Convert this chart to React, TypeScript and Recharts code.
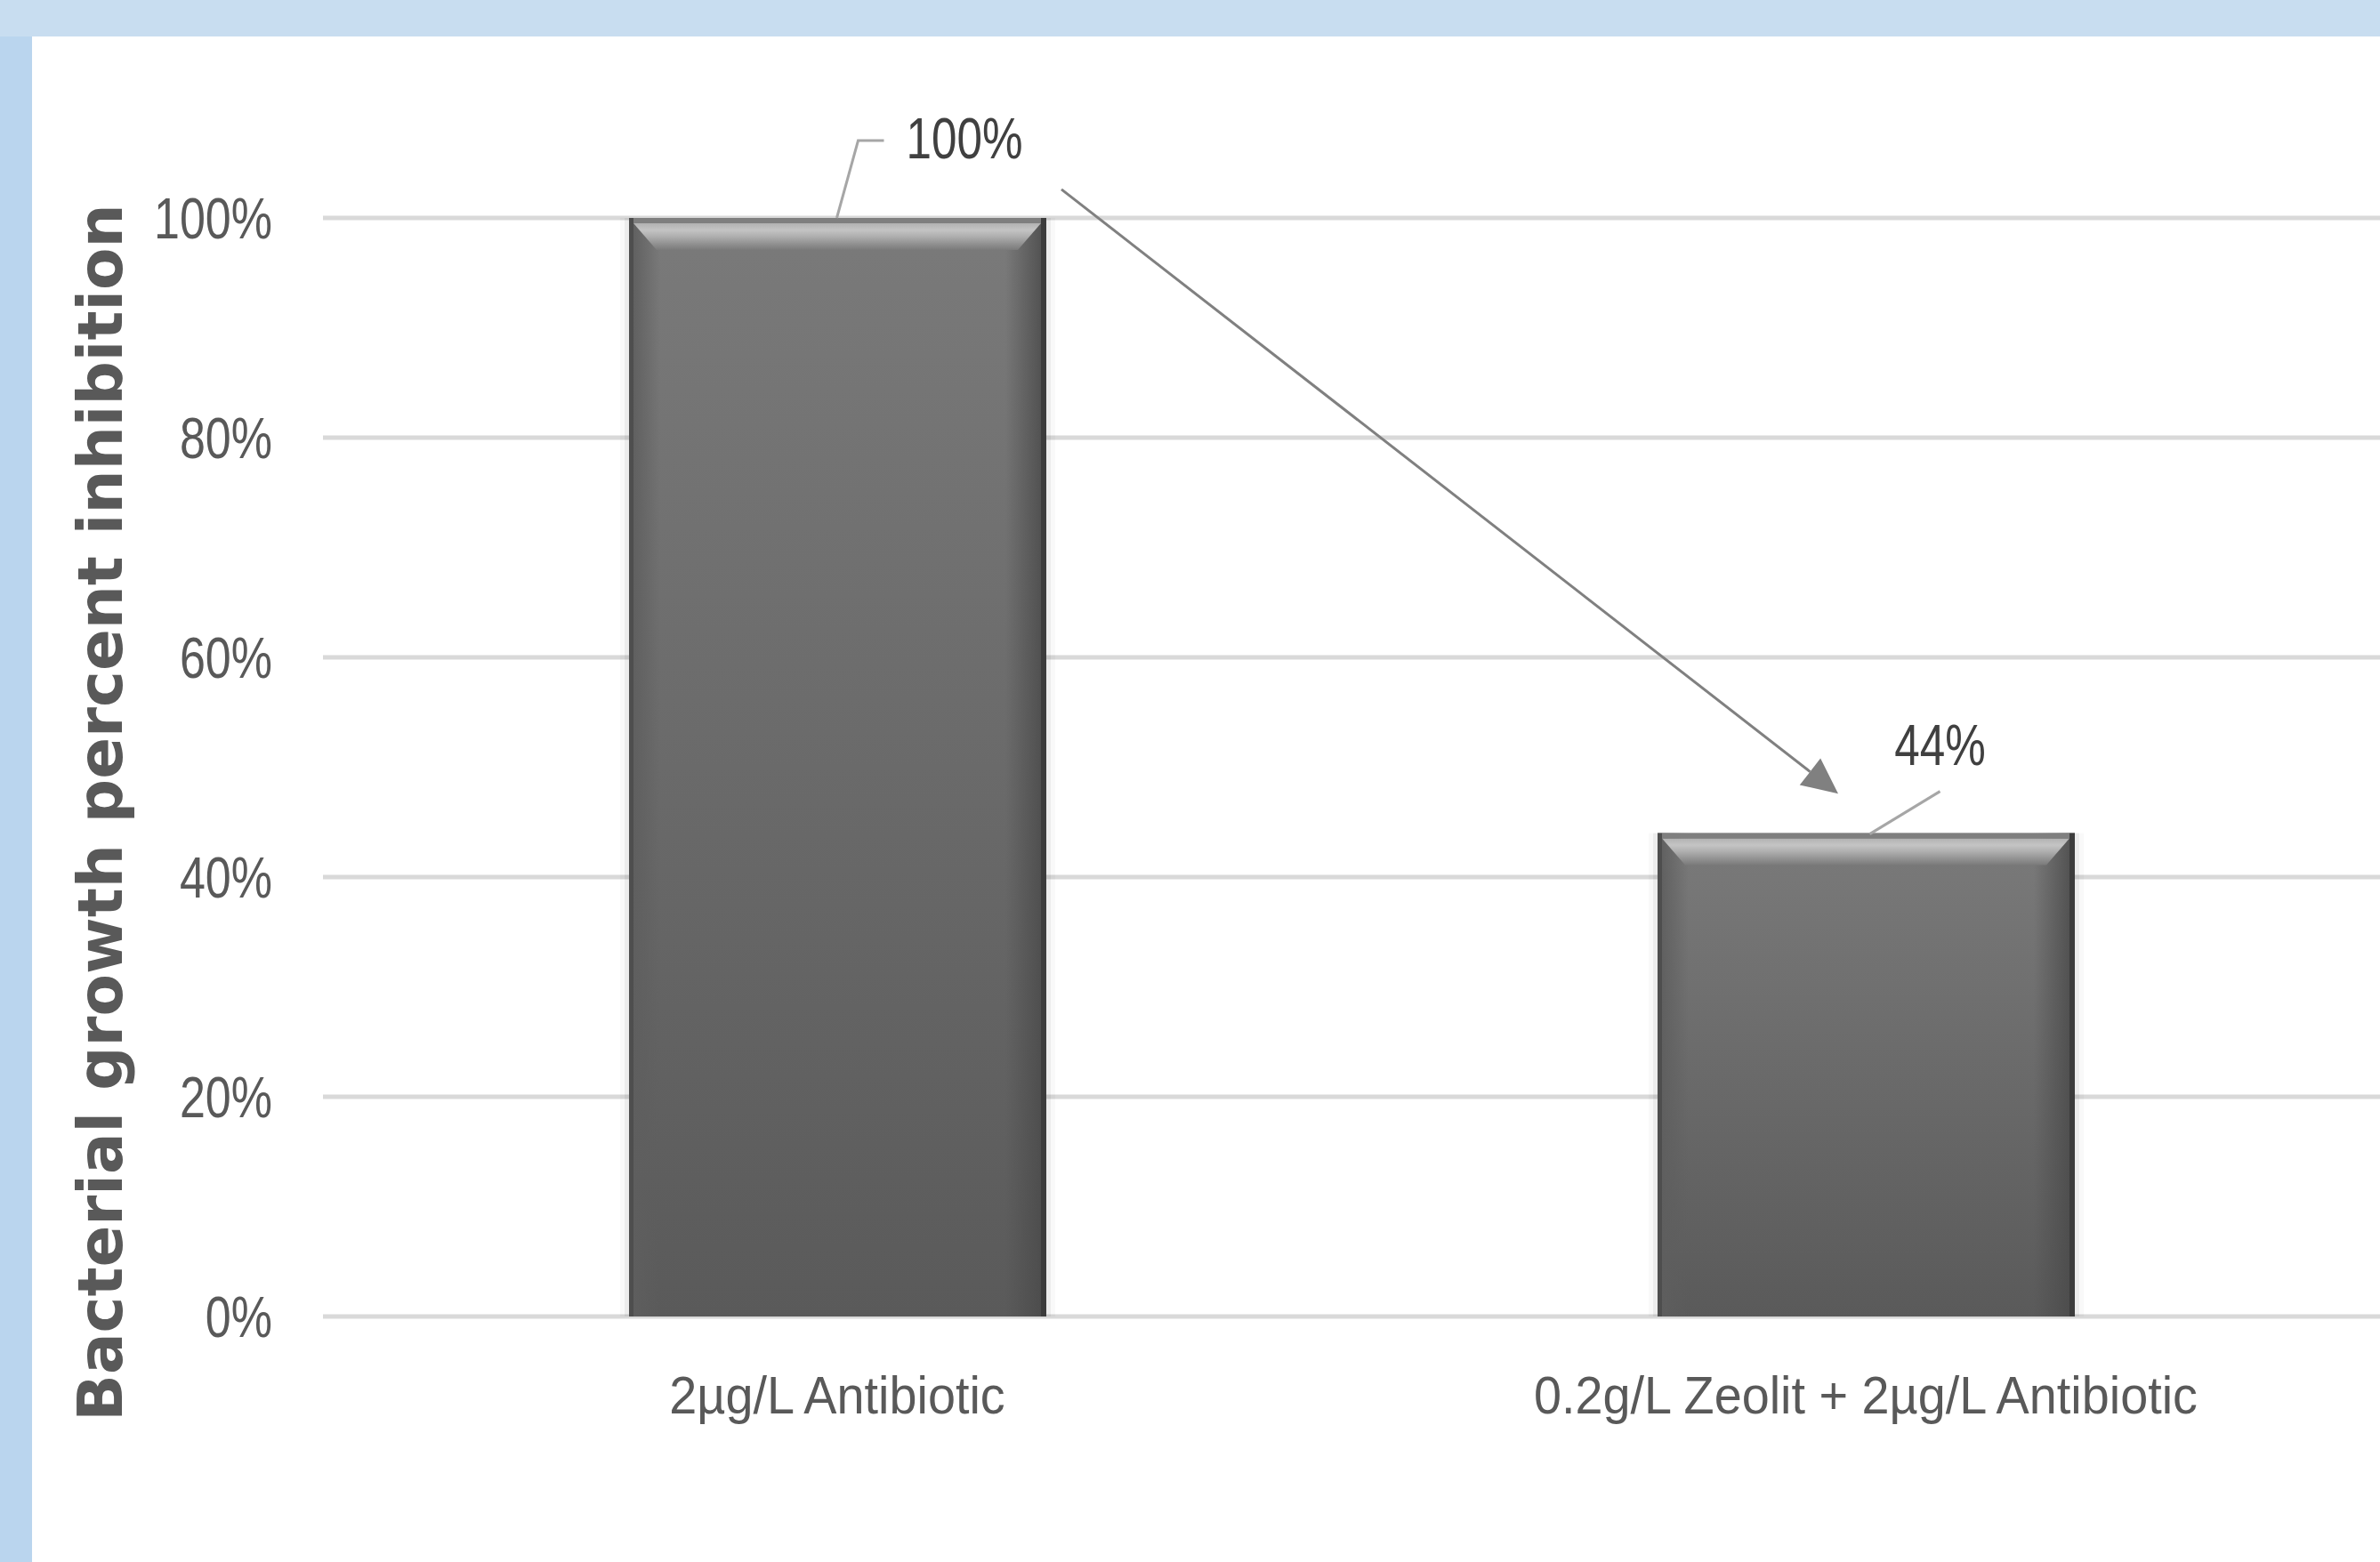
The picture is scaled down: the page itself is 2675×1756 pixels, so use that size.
import React from 'react';
import { BarChart, Bar, XAxis, YAxis, CartesianGrid, LabelList, ReferenceLine } from 'recharts';

// values
const categories = ['2µg/L Antibiotic', '0.2g/L Zeolit + 2µg/L Antibiotic'];
const inhibition = [1.0, 0.44];
const yTicks = [0, 0.2, 0.4, 0.6, 0.8, 1];
const yTitle = 'Bacterial growth percent inhibition';

// arrow annotation, in (fraction of plot width, value) units
const arrowStart = { x: 0.359, y: 1.026 };
const arrowEnd = { x: 0.7366, y: 0.476 };

const data = categories.map((name, i) => ({ name, value: inhibition[i] }));

const SANS = "'Liberation Sans', Arial, sans-serif";
const W = 2675;
const H = 1756;

const pct = (v: number) => `${Math.round(v * 100)}%`;

function BevelBar(props: any) {
    const x = Number(props.x);
    const y = Number(props.y);
    const width = Number(props.width);
    const height = Number(props.height);
    if (!height || height <= 0) return null;
    const bev = 36;
    const inset = 26;
    return (
        <g>
            <rect x={x - 10} y={y} width={width + 20} height={height} fill="#000" opacity={0.025} />
            <rect x={x - 5} y={y} width={width + 10} height={height} fill="#000" opacity={0.05} />
            <rect x={x} y={y} width={width} height={height} fill="url(#barBody)" />
            <rect x={x + 5} y={y} width={30} height={height} fill="url(#barLeft)" />
            <rect x={x + width - 46} y={y} width={40} height={height} fill="url(#barRight)" />
            <polygon
                points={`${x + 5},${y + 6} ${x + width - 6},${y + 6} ${x + width - 6 - inset},${y + bev} ${x + 5 + inset},${y + bev}`}
                fill="url(#barBevel)"
            />
            <rect x={x} y={y} width={width} height={6} fill="#7F7F7F" />
            <rect x={x} y={y} width={5} height={height} fill="#4E4E4E" />
            <rect x={x + width - 6} y={y} width={6} height={height} fill="#3C3C3C" />
        </g>
    );
}

// squeezed text, the reference uses a narrow face
function NarrowText({ x, y, anchor, size, sx, fill, dy, children }: any) {
    return (
        <text
            transform={`translate(${x}, ${y}) scale(${sx}, 1)`}
            textAnchor={anchor}
            dy={dy}
            fontFamily={SANS}
            fontSize={size}
            fill={fill}
        >
            {children}
        </text>
    );
}

const YTick = (props: any) => (
    <NarrowText x={props.x} y={props.y} anchor="end" size={65} sx={0.8} fill="#595959" dy="0.355em">
        {pct(Number(props.payload.value))}
    </NarrowText>
);

const XTick = (props: any) => (
    <NarrowText x={props.x} y={props.y} anchor="middle" size={60} sx={0.93} fill="#595959" dy="0.71em">
        {props.payload.value}
    </NarrowText>
);

// manual label placement, one per bar (Excel style)
const labelPlacement = [
    { lead: [[-1, 0], [23, -87], [52, -87]], dx: 77, dy: -67, anchor: 'start' },
    { lead: [[4, 1], [83, -47]], dx: 83, dy: -77, anchor: 'middle' },
];

function DataLabel(props: any) {
    const vb = props.viewBox || props;
    const x = Number(vb.x ?? props.x);
    const y = Number(vb.y ?? props.y);
    const width = Number(vb.width ?? props.width);
    const index = props.index ?? 0;
    const p = labelPlacement[index] || labelPlacement[0];
    const cx = x + width / 2;
    const d = p.lead.map(([lx, ly], i) => `${i === 0 ? 'M' : 'L'}${cx + lx},${y + ly}`).join(' ');
    return (
        <g>
            <path d={d} fill="none" stroke="#A6A6A6" strokeWidth={3} />
            <NarrowText x={cx + p.dx} y={y + p.dy} anchor={p.anchor} size={64} sx={0.8} fill="#404040">
                {pct(Number(props.value))}
            </NarrowText>
        </g>
    );
}

function ArrowShape(props: any) {
    const x1 = Number(props.x1);
    const y1 = Number(props.y1);
    const x2 = Number(props.x2);
    const y2 = Number(props.y2);
    if ([x1, y1, x2, y2].some((v) => isNaN(v))) return null;
    const len = Math.hypot(x2 - x1, y2 - y1);
    const ux = (x2 - x1) / len;
    const uy = (y2 - y1) / len;
    const headL = 40;
    const headW = 19;
    const bx = x2 - ux * headL;
    const by = y2 - uy * headL;
    return (
        <g>
            <line x1={x1} y1={y1} x2={bx} y2={by} stroke="#808080" strokeWidth={3} />
            <polygon
                points={`${x2},${y2} ${bx - uy * headW},${by + ux * headW} ${bx + uy * headW},${by - ux * headW}`}
                fill="#808080"
            />
        </g>
    );
}

function YTitle(props: any) {
    const vb = props.viewBox || { x: 0, y: 245, width: 363, height: 1235 };
    const cx = Number(vb.x) + 137;
    const cy = Number(vb.y) + Number(vb.height) / 2 + 51;
    return (
        <text
            transform={`translate(${cx}, ${cy}) rotate(-90)`}
            textAnchor="middle"
            fontFamily="'DejaVu Sans', sans-serif"
            fontWeight="bold"
            fontSize={69}
            fill="#595959"
        >
            {yTitle}
        </text>
    );
}

export default function App() {
    return (
        <div style={{ position: 'absolute', left: 0, top: 0, width: W, height: H, background: '#C8DDF0' }}>
            <div style={{ position: 'absolute', left: 0, top: 41, width: 36, height: H - 41, background: '#BAD5EE' }} />
            <div style={{ position: 'absolute', left: 36, top: 41, right: 0, bottom: 0, background: '#FFFFFF' }} />
            <div style={{ position: 'absolute', left: 0, top: 0 }}>
                <BarChart width={W} height={H} data={data} margin={{ top: 245, right: 0, bottom: 176, left: 0 }}>
                    <defs>
                        <linearGradient id="barBody" x1="0" y1="0" x2="0" y2="1">
                            <stop offset="0%" stopColor="#7A7A7A" />
                            <stop offset="100%" stopColor="#5A5A5A" />
                        </linearGradient>
                        <linearGradient id="barLeft" x1="0" y1="0" x2="1" y2="0">
                            <stop offset="0%" stopColor="#5E5E5E" stopOpacity={0.9} />
                            <stop offset="100%" stopColor="#5E5E5E" stopOpacity={0} />
                        </linearGradient>
                        <linearGradient id="barRight" x1="0" y1="0" x2="1" y2="0">
                            <stop offset="0%" stopColor="#4A4A4A" stopOpacity={0} />
                            <stop offset="100%" stopColor="#4A4A4A" stopOpacity={0.8} />
                        </linearGradient>
                        <linearGradient id="barBevel" x1="0" y1="0" x2="0" y2="1">
                            <stop offset="0%" stopColor="#B2B2B2" />
                            <stop offset="25%" stopColor="#C4C4C4" />
                            <stop offset="50%" stopColor="#AEAEAE" />
                            <stop offset="80%" stopColor="#8E8E8E" />
                            <stop offset="100%" stopColor="#7A7A7A" />
                        </linearGradient>
                    </defs>
                    <CartesianGrid vertical={false} stroke="#D9D9D9" strokeWidth={5} />
                    <XAxis
                        dataKey="name"
                        axisLine={false}
                        tickLine={false}
                        tickSize={0}
                        tickMargin={66}
                        height={100}
                        interval={0}
                        tick={(p: any) => <XTick {...p} />}
                    />
                    <XAxis xAxisId="num" type="number" domain={[0, 1]} allowDataOverflow hide />
                    <YAxis
                        domain={[0, 1]}
                        ticks={yTicks}
                        width={363}
                        axisLine={false}
                        tickLine={false}
                        tickSize={0}
                        tickMargin={57}
                        tick={(p: any) => <YTick {...p} />}
                        label={{ content: (p: any) => <YTitle {...p} /> }}
                    />
                    <Bar dataKey="value" barSize={469} shape={(p: any) => <BevelBar {...p} />} isAnimationActive={false}>
                        <LabelList dataKey="value" content={(p: any) => <DataLabel {...p} />} />
                    </Bar>
                    <ReferenceLine
                        xAxisId="num"
                        segment={[arrowStart, arrowEnd]}
                        ifOverflow="visible"
                        shape={(p: any) => <ArrowShape {...p} />}
                    />
                </BarChart>
            </div>
        </div>
    );
}
